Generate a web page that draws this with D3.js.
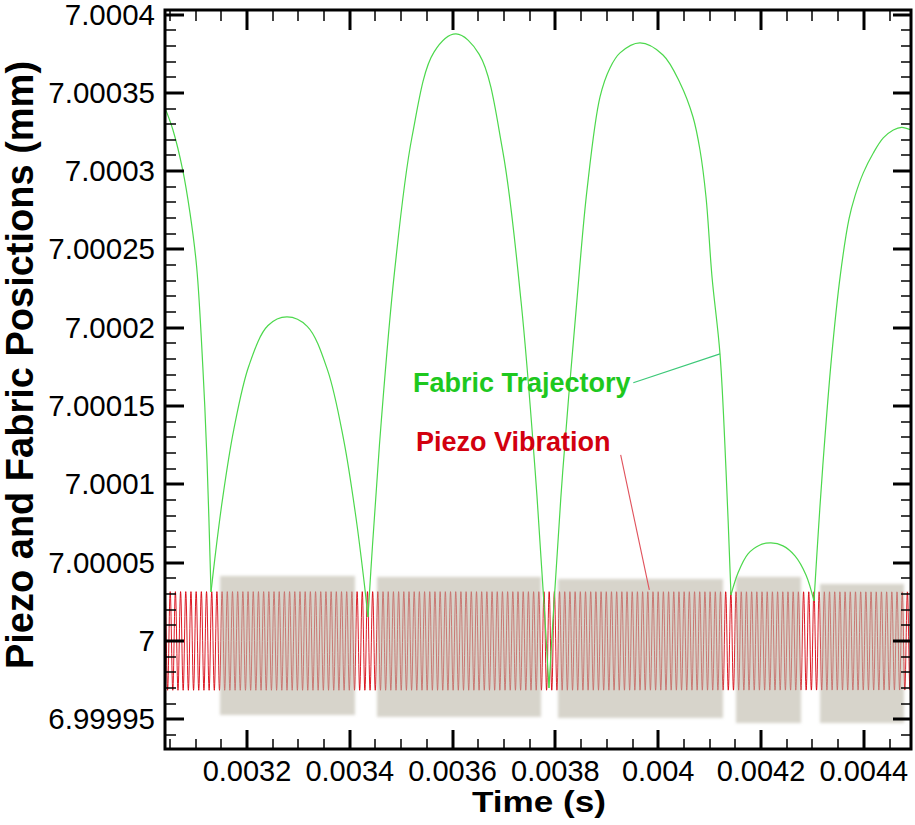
<!DOCTYPE html>
<html><head><meta charset="utf-8">
<script src="https://cdn.jsdelivr.net/npm/d3@7"></script>
<style>body{margin:0;background:#fff;overflow:hidden}</style>
</head><body><script>
// ---------- data ----------
const xDomain = [0.0030405, 0.0044918];          // Time (s)
const yDomain = [6.999931, 7.0004029];            // Position (mm)
const xTickValues = [0.0032, 0.0034, 0.0036, 0.0038, 0.0040, 0.0042, 0.0044];
const xTickLabels = ["0.0032", "0.0034", "0.0036", "0.0038", "0.004", "0.0042", "0.0044"];
const yTickValues = [6.99995, 7.0, 7.00005, 7.0001, 7.00015, 7.0002, 7.00025, 7.0003, 7.00035, 7.0004];
const yTickLabels = ["6.99995", "7", "7.00005", "7.0001", "7.00015", "7.0002", "7.00025", "7.0003", "7.00035", "7.0004"];

// Fabric trajectory, one array per flight arc: [time s, position mm]
const fabricArc1 = [[0.0030405,7.0003404],[0.0030560,7.0003263],[0.0030749,7.0003008],[0.0030891,7.0002733],
  [0.0031021,7.0002388],[0.0031144,7.0001731],[0.0031222,7.0001156],[0.0031300,7.0000313]];
const fabricArc2 = [[0.0031300,7.0000313],[0.0031374,7.0000524],[0.0031521,7.0000899],[0.0031743,7.0001349],
  [0.0032039,7.0001759],[0.0032409,7.0002014],[0.0032778,7.0002069],[0.0033172,7.0002009],
  [0.0033566,7.0001731],[0.0033881,7.0001284],[0.0034118,7.0000793],[0.0034276,7.0000384],[0.0034354,7.0000153]];
const fabricArc3 = [[0.0034354,7.0000153],[0.0034440,7.0000602],[0.0034611,7.0001397],[0.0034868,7.0002350],
  [0.0035210,7.0003218],[0.0035638,7.0003760],[0.0036066,7.0003876],[0.0036518,7.0003746],
  [0.0036971,7.0003138],[0.0037333,7.0002164],[0.0037604,7.0001095],[0.0037785,7.0000202],[0.0037875,6.9999700]];
const fabricArc4 = [[0.0037875,6.9999700],[0.0037964,7.0000196],[0.0038141,7.0001075],[0.0038407,7.0002130],
  [0.0038615,7.0002880],[0.0038868,7.0003474],[0.0039062,7.0003659],[0.0039257,7.0003755],
  [0.0039646,7.0003819],[0.0040093,7.0003742],[0.0040424,7.0003563],[0.0040677,7.0003346],
  [0.0040813,7.0003135],[0.0040930,7.0002835],[0.0041047,7.0002324],[0.0041202,7.0001833],
  [0.0041319,7.0001092],[0.0041416,7.0000294]];
const fabricArc5 = [[0.0041416,7.0000294],[0.0041552,7.0000434],[0.0041747,7.0000556],[0.0041980,7.0000613],
  [0.0042194,7.0000626],[0.0042428,7.0000607],[0.0042661,7.0000543],[0.0042875,7.0000421],[0.0043031,7.0000255]];
const fabricArc6 = [[0.0043031,7.0000255],[0.0043117,7.0000709],[0.0043202,7.0001118],[0.0043373,7.0001814],
  [0.0043545,7.0002341],[0.0043712,7.0002695],[0.0043829,7.0002842],[0.0043990,7.0002989],
  [0.0044185,7.0003116],[0.0044379,7.0003212],[0.0044574,7.0003263],[0.0044737,7.0003280],[0.0044918,7.0003263]];
const fabricArcs = [fabricArc1, fabricArc2, fabricArc3, fabricArc4, fabricArc5, fabricArc6];

// Piezo vibration (sinusoidal signal) parameters
const piezoCenter = 7.0;
const piezoAmplitude = 0.0000315;
const piezoPeriod = 0.0000101;

// Shaded contact intervals
const boxStart  = [0.0031475, 0.0034529, 0.0038051, 0.0041513, 0.0043148];
const boxEnd    = [0.0034101, 0.0037720, 0.0041261, 0.0042778, 0.0044782];
const boxTop    = [7.0000415, 7.0000409, 7.0000396, 7.0000409, 7.0000364];
const boxBottom = [6.9999527, 6.9999515, 6.9999508, 6.9999476, 6.9999476];

// Annotations: label anchor and leader line [t0,v0,t1,v1]
const annLabels = ["Fabric Trajectory", "Piezo Vibration"];
const annAnchor = [[0.0035230, 7.0001592], [0.0035288, 7.0001213]];
const annLeader = [[0.0039515, 7.0001649, 0.0041202, 7.0001833], [0.0039270, 7.0001188, 0.0039827, 7.0000326]];

// ---------- drawing ----------
const W = 915, H = 825;
const mL = 165, mR = 911, mT = 10, mB = 749;
const svg = d3.select("body").append("svg").attr("width", W).attr("height", H)
  .style("font-family", "'Liberation Sans', Arial, sans-serif");
const x = d3.scaleLinear().domain(xDomain).range([mL, mR]);
const y = d3.scaleLinear().domain(yDomain).range([mB, mT]);

const defs = svg.append("defs");
defs.append("clipPath").attr("id", "clip").append("rect")
  .attr("x", mL).attr("y", mT).attr("width", mR - mL).attr("height", mB - mT);
defs.append("filter").attr("id", "soft").attr("x", "-5%").attr("y", "-5%").attr("width", "110%").attr("height", "110%")
  .append("feGaussianBlur").attr("stdDeviation", 1.6);

const plot = svg.append("g").attr("clip-path", "url(#clip)");

// piezo wave
const nSamp = Math.round((xDomain[1] - xDomain[0]) / piezoPeriod * 24);
const piezo = d3.range(nSamp + 1).map(i => {
  const t = xDomain[0] + (xDomain[1] - xDomain[0]) * i / nSamp;
  return [t, piezoCenter + piezoAmplitude * Math.sin(2 * Math.PI * (t - xDomain[0]) / piezoPeriod + Math.PI / 2)];
});
plot.append("path").datum(piezo)
  .attr("d", d3.line().x(d => x(d[0])).y(d => y(d[1])))
  .attr("fill", "none").attr("stroke", "#d8000c").attr("stroke-width", 0.9);

// gray boxes
plot.append("g").selectAll("rect").data(boxStart).join("rect")
  .attr("x", (d, i) => x(boxStart[i]))
  .attr("width", (d, i) => x(boxEnd[i]) - x(boxStart[i]))
  .attr("y", (d, i) => y(boxTop[i]))
  .attr("height", (d, i) => y(boxBottom[i]) - y(boxTop[i]))
  .attr("fill", "rgb(188,183,168)").attr("fill-opacity", 0.6)
  .attr("filter", "url(#soft)");

// fabric trajectory
const fabLine = d3.line().x(d => x(d[0])).y(d => y(d[1])).curve(d3.curveCatmullRom.alpha(0.5));
plot.append("g").selectAll("path").data(fabricArcs).join("path")
  .attr("d", fabLine).attr("fill", "none").attr("stroke", "#4cd84c").attr("stroke-width", 1.2);

// annotations
const annColors = ["#1ec81e", "#d2000f"];
const leaderColors = ["#3cc878", "#e0505a"];
svg.append("g").selectAll("line").data(annLeader).join("line")
  .attr("x1", d => x(d[0])).attr("y1", d => y(d[1]))
  .attr("x2", d => x(d[2])).attr("y2", d => y(d[3]))
  .attr("stroke", (d, i) => leaderColors[i]).attr("stroke-width", 1.1);
svg.append("g").selectAll("text").data(annLabels).join("text")
  .attr("x", (d, i) => x(annAnchor[i][0])).attr("y", (d, i) => y(annAnchor[i][1]))
  .attr("fill", (d, i) => annColors[i]).attr("font-weight", "bold").attr("font-size", 27)
  .text(d => d);

// axes frame + ticks
const axisG = svg.append("g");
const xMinor = d3.range(0.00305, 0.00449, 0.00005).filter(v => !xTickValues.some(m => Math.abs(m - v) < 1e-9));
const yMinor = d3.range(6.99994, 7.000401, 0.00001).filter(v => !yTickValues.some(m => Math.abs(m - v) < 1e-9));

function ticks(g, scale, values, side, len, sw) {
  const pos = values.map(v => Math.round(scale(v)));
  const horiz = side === "b" || side === "t";
  g.append("g").selectAll("line").data(pos).join("line")
    .attr("x1", p => horiz ? p : (side === "l" ? mL : mR))
    .attr("x2", p => horiz ? p : (side === "l" ? mL + len : mR - len))
    .attr("y1", p => !horiz ? p : (side === "b" ? mB : mT))
    .attr("y2", p => !horiz ? p : (side === "b" ? mB - len : mT + len))
    .attr("stroke", "#000").attr("stroke-width", sw);
}
ticks(axisG, x, xMinor, "b", 10, 1.5);
ticks(axisG, x, xMinor, "t", 11, 1.5);
ticks(axisG, x, xTickValues, "b", 19, 3);
ticks(axisG, x, xTickValues, "t", 20, 3);
ticks(axisG, y, yMinor, "l", 11, 1.5);
ticks(axisG, y, yMinor, "r", 10, 1.5);
ticks(axisG, y, yTickValues, "l", 19, 3);
ticks(axisG, y, yTickValues, "r", 18, 3);

axisG.append("rect").attr("x", mL).attr("y", mT).attr("width", mR - mL).attr("height", mB - mT)
  .attr("fill", "none").attr("stroke", "#000").attr("stroke-width", 3);

// tick labels
svg.append("g").selectAll("text").data(xTickValues).join("text")
  .attr("x", d => x(d)).attr("y", 781).attr("text-anchor", "middle")
  .attr("font-size", 29).attr("fill", "#000").text((d, i) => xTickLabels[i]);
svg.append("g").selectAll("text").data(yTickValues).join("text")
  .attr("x", 155).attr("y", d => y(d) + 10).attr("text-anchor", "end")
  .attr("font-size", 29.5).attr("fill", "#000").text((d, i) => yTickLabels[i]);

// titles
svg.append("text").attr("x", 539).attr("y", 812).attr("text-anchor", "middle")
  .attr("font-size", 30).attr("font-weight", "bold")
  .attr("textLength", 134).attr("lengthAdjust", "spacingAndGlyphs").text("Time (s)");
svg.append("text").attr("transform", "translate(33,365) rotate(-90)").attr("text-anchor", "middle")
  .attr("font-size", 38).attr("font-weight", "bold").text("Piezo and Fabric Posictions (mm)");
</script></body></html>
